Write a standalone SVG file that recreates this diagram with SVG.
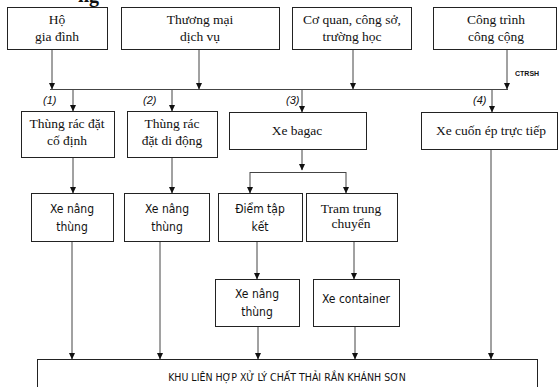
<svg xmlns="http://www.w3.org/2000/svg" width="559" height="387" viewBox="0 0 559 387">
<style>
.b{fill:#fff;stroke:#222;stroke-width:1}
.s{font-family:"Liberation Serif",serif;font-size:13.5px;fill:#111;text-anchor:middle}
.a{font-family:"DejaVu Sans Condensed","Liberation Sans",sans-serif;font-size:12px;fill:#111;text-anchor:middle}
.c{stroke:#444;stroke-width:1;fill:none}
.n{font-family:"Liberation Sans",sans-serif;font-size:11px;font-style:italic;fill:#111}
</style>
<defs>
<marker id="ar" markerWidth="7" markerHeight="7" refX="6" refY="3.5" orient="auto" markerUnits="userSpaceOnUse">
<path d="M0,0.5 L6.5,3.5 L0,6.5 Z" fill="#111"/>
</marker>
</defs>
<rect width="559" height="387" fill="#fff"/>
<text x="78" y="2" font-family="Liberation Serif,serif" font-size="20" font-weight="bold" fill="#111">ng</text>

<g id="connectors">
<line class="c" x1="52" y1="49" x2="52" y2="89" marker-end="url(#ar)"/>
<line class="c" x1="199" y1="49" x2="199" y2="89" marker-end="url(#ar)"/>
<line class="c" x1="353" y1="49" x2="353" y2="89" marker-end="url(#ar)"/>
<line class="c" x1="507" y1="49" x2="507" y2="89" marker-end="url(#ar)"/>
<line class="c" x1="50" y1="89.5" x2="508" y2="89.5"/>
<line class="c" x1="73" y1="89" x2="73" y2="111" marker-end="url(#ar)"/>
<line class="c" x1="172" y1="89" x2="172" y2="111" marker-end="url(#ar)"/>
<line class="c" x1="302" y1="89" x2="302" y2="112" marker-end="url(#ar)"/>
<line class="c" x1="492" y1="89" x2="492" y2="112" marker-end="url(#ar)"/>
<line class="c" x1="73" y1="157" x2="73" y2="193" marker-end="url(#ar)"/>
<line class="c" x1="172" y1="157" x2="172" y2="193" marker-end="url(#ar)"/>
<line class="c" x1="302" y1="149" x2="302" y2="170" marker-end="url(#ar)"/>
<line class="c" x1="250" y1="172.5" x2="346" y2="172.5"/>
<line class="c" x1="250" y1="172" x2="250" y2="193" marker-end="url(#ar)"/>
<line class="c" x1="346" y1="172" x2="346" y2="193" marker-end="url(#ar)"/>
<line class="c" x1="257" y1="241" x2="257" y2="279" marker-end="url(#ar)"/>
<line class="c" x1="354" y1="241" x2="354" y2="279" marker-end="url(#ar)"/>
<line class="c" x1="72" y1="241" x2="72" y2="359" marker-end="url(#ar)"/>
<line class="c" x1="160" y1="241" x2="160" y2="359" marker-end="url(#ar)"/>
<line class="c" x1="258" y1="326" x2="258" y2="359" marker-end="url(#ar)"/>
<line class="c" x1="355" y1="326" x2="355" y2="359" marker-end="url(#ar)"/>
<line class="c" x1="491" y1="149" x2="491" y2="359" marker-end="url(#ar)"/>
<text x="515" y="76" font-family="Liberation Sans,sans-serif" font-size="7" font-weight="bold" fill="#111">CTRSH</text>
<text class="n" x="43" y="104">(1)</text>
<text class="n" x="143" y="104">(2)</text>
<text class="n" x="286" y="104">(3)</text>
<text class="n" x="473" y="104">(4)</text>
</g>

<g id="ho-gia-dinh"><rect class="b" x="7.5" y="7.5" width="100" height="42"/><text class="s" x="57" y="24">Hộ</text><text class="s" x="57" y="41">gia đình</text></g>
<g id="thuong-mai"><rect class="b" x="121.5" y="7.5" width="158" height="42"/><text class="s" x="200" y="24">Thương mại</text><text class="s" x="200" y="41">dịch vụ</text></g>
<g id="co-quan"><rect class="b" x="292.5" y="7.5" width="119" height="42"/><text class="s" x="352" y="24">Cơ quan, công sở,</text><text class="s" x="352" y="41">trường học</text></g>
<g id="cong-trinh"><rect class="b" x="433.5" y="7.5" width="123" height="42"/><text class="s" x="496" y="24">Công trình</text><text class="s" x="496" y="41">công cộng</text></g>

<g id="thung-co-dinh"><rect class="b" x="21.5" y="111.5" width="93" height="46"/><text class="s" x="67" y="128">Thùng rác đặt</text><text class="s" x="67" y="145">cố định</text></g>
<g id="thung-di-dong"><rect class="b" x="127.5" y="111.5" width="90" height="46"/><text class="s" x="172" y="128">Thùng rác</text><text class="s" x="172" y="145">đặt di động</text></g>
<g id="xe-bagac"><rect class="b" x="229.5" y="112.5" width="137" height="37"/><text class="s" x="297" y="135">Xe bagac</text></g>
<g id="xe-cuon-ep"><rect class="b" x="421.5" y="112.5" width="136" height="37"/><text class="s" x="491" y="135">Xe cuốn ép trực tiếp</text></g>

<g id="xe-nang-1"><rect class="b" x="31.5" y="193.5" width="82" height="48"/><text class="a" x="72" y="213">Xe nâng</text><text class="a" x="72" y="231">thùng</text></g>
<g id="xe-nang-2"><rect class="b" x="124.5" y="193.5" width="85" height="48"/><text class="a" x="167" y="213">Xe nâng</text><text class="a" x="167" y="231">thùng</text></g>
<g id="diem-tap-ket"><rect class="b" x="218.5" y="193.5" width="84" height="48"/><text class="a" x="260" y="213">Điểm tập</text><text class="a" x="260" y="231">kết</text></g>
<g id="tram-trung-chuyen"><rect class="b" x="306.5" y="193.5" width="91" height="48"/><text class="s" x="351" y="213">Tram trung</text><text class="s" x="351" y="228">chuyển</text></g>

<g id="xe-nang-3"><rect class="b" x="215.5" y="279.5" width="84" height="47"/><text class="a" x="257" y="298">Xe nâng</text><text class="a" x="257" y="316">thùng</text></g>
<g id="xe-container"><rect class="b" x="313.5" y="279.5" width="86" height="47"/><text class="a" x="356" y="303">Xe container</text></g>

<g id="khu-lien-hop"><rect class="b" x="37.5" y="359.5" width="500" height="40"/><text x="287" y="381" font-family="DejaVu Sans Condensed,Liberation Sans,sans-serif" font-size="10.5" fill="#111" text-anchor="middle">KHU LIÊN HỢP XỬ LÝ CHẤT THẢI RẮN KHÁNH SƠN</text></g>
</svg>
